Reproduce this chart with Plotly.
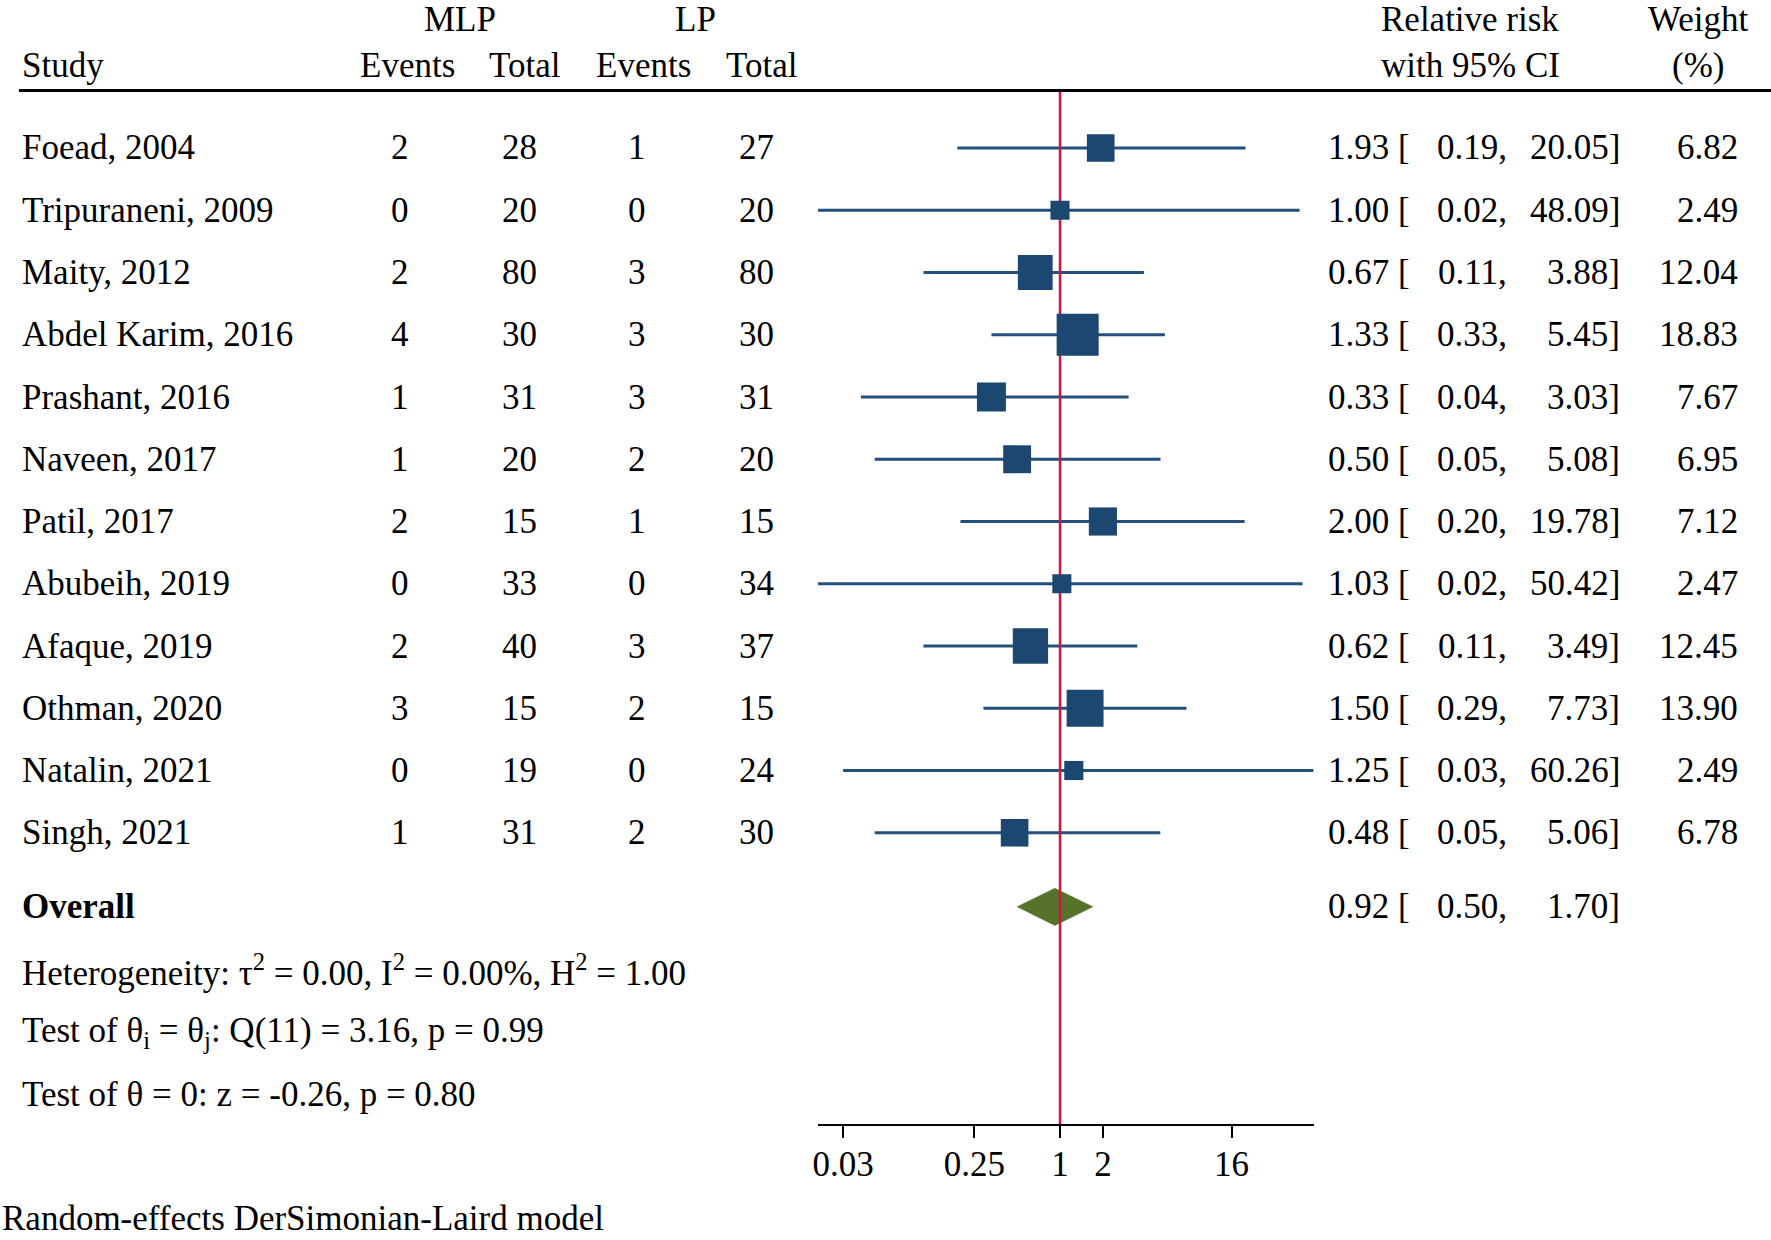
import math
import plotly.graph_objects as go

# ---------------- data ----------------
studies = ["Foead, 2004", "Tripuraneni, 2009", "Maity, 2012", "Abdel Karim, 2016",
           "Prashant, 2016", "Naveen, 2017", "Patil, 2017", "Abubeih, 2019",
           "Afaque, 2019", "Othman, 2020", "Natalin, 2021", "Singh, 2021"]
mlp_events = [2, 0, 2, 4, 1, 1, 2, 0, 2, 3, 0, 1]
mlp_total = [28, 20, 80, 30, 31, 20, 15, 33, 40, 15, 19, 31]
lp_events = [1, 0, 3, 3, 3, 2, 1, 0, 3, 2, 0, 2]
lp_total = [27, 20, 80, 30, 31, 20, 15, 34, 37, 15, 24, 30]
rr = [1.93, 1.00, 0.67, 1.33, 0.33, 0.50, 2.00, 1.03, 0.62, 1.50, 1.25, 0.48]
ci_low = [0.19, 0.02, 0.11, 0.33, 0.04, 0.05, 0.20, 0.02, 0.11, 0.29, 0.03, 0.05]
ci_high = [20.05, 48.09, 3.88, 5.45, 3.03, 5.08, 19.78, 50.42, 3.49, 7.73, 60.26, 5.06]
weights = [6.82, 2.49, 12.04, 18.83, 7.67, 6.95, 7.12, 2.47, 12.45, 13.90, 2.49, 6.78]

overall_rr = 0.92
overall_low = 0.50
overall_high = 1.70

tick_vals = [0.03, 0.25, 1, 2, 16]
tick_text = ["0.03", "0.25", "1", "2", "16"]

stat_lines = [
    "Heterogeneity: \u03c4<sup>2</sup> = 0.00, I<sup>2</sup> = 0.00%, H<sup>2</sup> = 1.00",
    "Test of \u03b8<sub>i</sub> = \u03b8<sub>j</sub>: Q(11) = 3.16, p = 0.99",
    "Test of \u03b8 = 0: z = -0.26, p = 0.80",
]
footnote = "Random-effects DerSimonian-Laird model"

# ---------------- layout constants ----------------
W, H = 1771, 1240
FONT = "Liberation Serif, Times New Roman, serif"
FS = 35
BLUE = "#1b4770"
LINEBLUE = "#21517c"
RED = "#d6143f"
GREEN = "#56722b"

n = len(studies)
rows = list(range(n))
overall_row = n + 0.19
stat_rows = [n + 1.21 + i for i in range(len(stat_lines))]

row0_px = 148.0
row_step = 62.25
top_px = 90.4
axis_px = 1124.0
y_top = (top_px - row0_px) / row_step
y_bot = (axis_px - row0_px) / row_step

LEFT_PAD = 8   # annotation inner padding compensation
C_SHIFT = -3.4
R_SHIFT = 3


def px(x):
    return x / W


def py(y):
    return 1 - y / H


fig = go.Figure()

# CI lines
lx, ly = [], []
for r, lo, hi in zip(rows, ci_low, ci_high):
    lx += [lo, hi, None]
    ly += [r, r, None]
fig.add_trace(go.Scatter(x=lx, y=ly, mode="lines",
                         line=dict(color=LINEBLUE, width=3), hoverinfo="skip",
                         showlegend=False))

# overall diamond
dh = 0.30
fig.add_trace(go.Scatter(
    x=[overall_low, overall_rr, overall_high, overall_rr, overall_low],
    y=[overall_row, overall_row - dh, overall_row, overall_row + dh, overall_row],
    mode="lines", fill="toself", fillcolor=GREEN, line=dict(color=GREEN, width=0.5),
    hoverinfo="skip", showlegend=False))

# red reference line at RR = 1
fig.add_trace(go.Scatter(x=[1, 1], y=[y_top, y_bot], mode="lines",
                         line=dict(color=RED, width=2.5), hoverinfo="skip",
                         showlegend=False))

# squares (area proportional to weight)
sizes = [6 + 8.3 * math.sqrt(w) for w in weights]
fig.add_trace(go.Scatter(x=rr, y=rows, mode="markers",
                         marker=dict(symbol="square", size=sizes, color=BLUE,
                                     opacity=1, line=dict(width=0)),
                         showlegend=False))

ann = []


def text(x, y, s, xanchor="left", yref="y", size=FS, yanchor="middle"):
    shift = {"left": -LEFT_PAD, "center": C_SHIFT, "right": R_SHIFT}[xanchor]
    ann.append(dict(x=x, y=y, xref="paper", yref=yref, text=s, showarrow=False,
                    xanchor=xanchor, yanchor=yanchor, xshift=shift,
                    font=dict(family=FONT, size=size, color="black")))


# headers
hy1, hy2 = py(19.5), py(65.5)
text(px(459.7), hy1, "MLP", "center", "paper")
text(px(695.8), hy1, "LP", "center", "paper")
text(px(22.6), hy2, "Study", "left", "paper")
text(px(406.6), hy2, "Events", "center", "paper")
text(px(525.0), hy2, "Total", "center", "paper")
text(px(643.8), hy2, "Events", "center", "paper")
text(px(762.4), hy2, "Total", "center", "paper")
text(px(1473), hy1, "Relative risk", "center", "paper")
text(px(1473), hy2, "with 95% CI", "center", "paper")
text(px(1701), hy1, "Weight", "center", "paper")
text(px(1701), hy2, "(%)", "center", "paper")

# rows
for i in rows:
    text(px(22.6), i, studies[i])
    text(px(400), i, str(mlp_events[i]), "center")
    text(px(519.6), i, str(mlp_total[i]), "center")
    text(px(637), i, str(lp_events[i]), "center")
    text(px(756.8), i, str(lp_total[i]), "center")
    text(px(1408), i, f"{rr[i]:.2f} [", "right")
    text(px(1505.5), i, f"{ci_low[i]:.2f},", "right")
    text(px(1618.5), i, f"{ci_high[i]:.2f}]", "right")
    text(px(1737), i, f"{weights[i]:.2f}", "right")

text(px(22.6), overall_row, "<b>Overall</b>")
text(px(1408), overall_row, f"{overall_rr:.2f} [", "right")
text(px(1505.5), overall_row, f"{overall_low:.2f},", "right")
text(px(1618.5), overall_row, f"{overall_high:.2f}]", "right")

for r, s in zip(stat_rows, stat_lines):
    text(px(22.6), r, s)

text(px(3), 0, footnote, "left", "paper", yanchor="bottom")

shapes = [dict(type="line", xref="paper", yref="paper", x0=px(14), x1=1,
               y0=py(top_px), y1=py(top_px), line=dict(color="black", width=3))]

lo_log = math.log10(0.02)
hi_log = math.log10(60.26)
x_left = 1058 - 43 * math.log2(1 / 0.02)
x_right = 1058 + 43 * math.log2(60.26)

fig.update_layout(
    width=W, height=H, margin=dict(l=0, r=0, t=0, b=0),
    paper_bgcolor="white", plot_bgcolor="white",
    annotations=ann, shapes=shapes,
    xaxis=dict(type="log", range=[lo_log, hi_log], domain=[px(x_left), px(x_right)],
               showgrid=False, zeroline=False, showline=True, linecolor="black",
               linewidth=2, ticks="outside", ticklen=12, tickwidth=2,
               tickcolor="black", tickvals=tick_vals, ticktext=tick_text,
               tickfont=dict(family=FONT, size=FS, color="black"),
               ticklabelstandoff=-4,
               anchor="y", fixedrange=True),
    yaxis=dict(range=[y_bot, y_top], domain=[py(axis_px), py(top_px)],
               visible=False, fixedrange=True),
    font=dict(family=FONT, size=FS, color="black"),
)

fig.write_html("out.html", config={"displayModeBar": False},
               post_script="document.body.style.margin='0';")
